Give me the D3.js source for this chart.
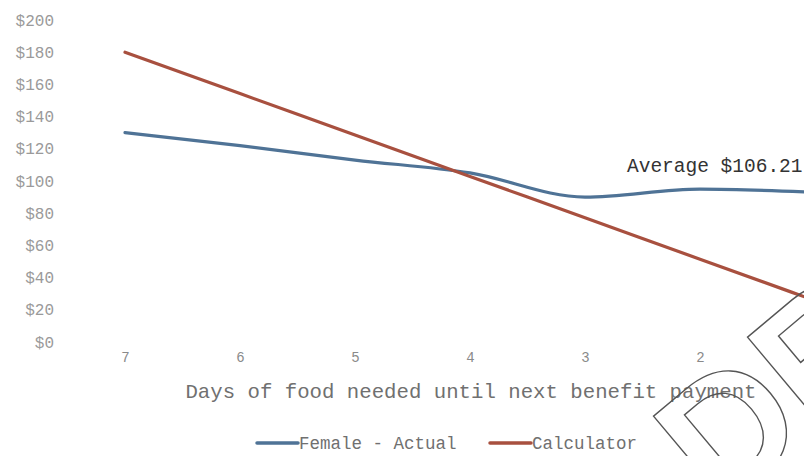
<!DOCTYPE html>
<html>
<head>
<meta charset="utf-8">
<script src="https://cdn.jsdelivr.net/npm/d3@7"></script>
<style>
  html, body { margin: 0; padding: 0; background: #fff; }
  svg { display: block; }
</style>
</head>
<body>
<svg id="chart" width="804" height="456"></svg>
<script>
const days = ["7", "6", "5", "4", "3", "2", "1"];
const femaleActual = [130, 122, 113, 105, 90, 95, 93];
const calculator = [180, 154.29, 128.57, 102.86, 77.14, 51.43, 25.71];
const yTicks = [0, 20, 40, 60, 80, 100, 120, 140, 160, 180, 200];
const averageLabel = "Average $106.21";
const xTitle = "Days of food needed until next benefit payment";
const seriesNames = ["Female - Actual", "Calculator"];
const watermark = "DRAFT";

const W = 804, H = 456;
const mono = "'Liberation Mono', 'Courier New', monospace";
const blue = "#4f7396", red = "#a8503f";

const svg = d3.select("#chart");
const x = d3.scalePoint().domain(days).range([125, 815]);
const y = d3.scaleLinear().domain([0, 200]).range([342, 20]);

// y axis labels
const yAxis = d3.axisLeft(y).tickValues(yTicks).tickSize(0).tickPadding(0)
  .tickFormat(d => "$" + d);
const gy = svg.append("g").attr("transform", "translate(54,0)").call(yAxis);
gy.select(".domain").remove();
gy.selectAll("text").attr("font-family", mono).attr("font-size", 16)
  .attr("fill", "#9a9a9a");

// x axis labels (only those inside the visible frame)
const xAxis = d3.axisBottom(x).tickSize(0).tickPadding(0)
  .tickValues(days.filter(d => x(d) < W));
const gx = svg.append("g").attr("transform", "translate(0,352)").call(xAxis);
gx.select(".domain").remove();
gx.selectAll("text").attr("font-family", mono).attr("font-size", 14)
  .attr("fill", "#8a8a8a");

// lines
const line = d3.line().x((d, i) => x(days[i])).y(d => y(d)).curve(d3.curveMonotoneX);
svg.append("path").datum(femaleActual).attr("d", line)
  .attr("fill", "none").attr("stroke", blue).attr("stroke-width", 3.2)
  .attr("stroke-linecap", "round");
svg.append("path").datum(calculator).attr("d", line)
  .attr("fill", "none").attr("stroke", red).attr("stroke-width", 3.2)
  .attr("stroke-linecap", "round");

// average annotation
svg.append("text").attr("x", 627).attr("y", 172)
  .attr("font-family", mono).attr("font-size", 19.5)
  .attr("fill", "#333").text(averageLabel);

// axis title
svg.append("text").attr("x", 471).attr("y", 398).attr("text-anchor", "middle")
  .attr("font-family", mono).attr("font-size", 20.7).attr("fill", "#707070")
  .text(xTitle);

// legend
const leg = svg.append("g");
const legItems = [
  { name: seriesNames[0], color: blue, x0: 257 },
  { name: seriesNames[1], color: red, x0: 490 }
];
legItems.forEach(it => {
  leg.append("line").attr("x1", it.x0).attr("x2", it.x0 + 41)
    .attr("y1", 443).attr("y2", 443).attr("stroke", it.color)
    .attr("stroke-width", 3.5).attr("stroke-linecap", "round");
  leg.append("text").attr("x", it.x0 + 42).attr("y", 449)
    .attr("font-family", mono).attr("font-size", 17.5).attr("fill", "#707070")
    .text(it.name);
});

// watermark outline
svg.append("text").attr("transform", "translate(720,513) rotate(-40)")
  .attr("font-family", "'Liberation Sans', Arial, sans-serif")
  .attr("font-weight", "bold").attr("font-size", 170)
  .attr("fill", "none").attr("stroke", "#555").attr("stroke-width", 1.4)
  .text(watermark);
</script>
</body>
</html>
